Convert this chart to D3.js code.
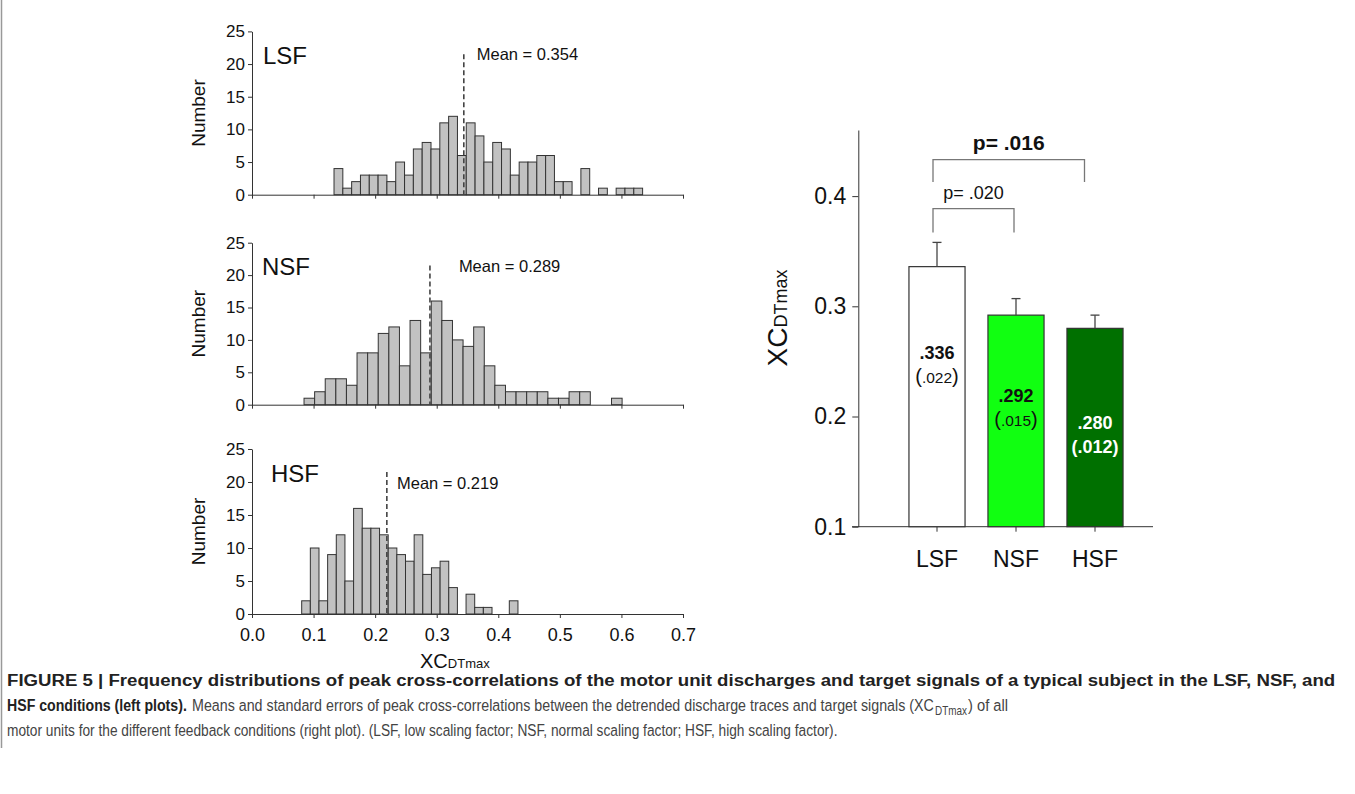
<!DOCTYPE html>
<html>
<head>
<meta charset="utf-8">
<script src="https://cdn.jsdelivr.net/npm/d3@7"></script>
<style>
  html, body { margin: 0; padding: 0; background: #fff; }
  svg { display: block; font-family: "Liberation Sans", Arial, sans-serif; }
  .axis path, .axis line { stroke: #333; }
  .axis text { fill: #111; font-family: "Liberation Sans", Arial, sans-serif; }
</style>
</head>
<body>
<div id="chart"></div>
<script>
// histogram data (counts per bin)
const histNames = ['LSF', 'NSF', 'HSF'];
const lsfCounts = [4, 1, 2, 3, 3, 3, 2, 5, 3, 7, 8, 7, 11, 12, 6, 11, 9, 5, 8, 7, 3, 5, 5, 6, 6, 2, 2, 0, 4, 0, 1, 0, 1, 1, 1];
const nsfCounts = [1, 2, 4, 4, 3, 8, 8, 11, 12, 6, 13, 8, 16, 13, 10, 9, 12, 6, 3, 2, 2, 2, 2, 1, 1, 2, 2, 0, 0, 1];
const hsfCounts = [2, 10, 2, 9, 12, 5, 16, 13, 13, 12, 10, 9, 8, 12, 6, 7, 8, 4, 0, 3, 1, 1, 0, 0, 2];
const binStarts = [0.1332, 0.0845, 0.0807];
const binWidths = [0.01432, 0.01722, 0.01405];
const meanLines = [0.344, 0.289, 0.219];
const meanLabels = ['Mean = 0.354', 'Mean = 0.289', 'Mean = 0.219'];
const histXTicks = [0, 0.1, 0.2, 0.3, 0.4, 0.5, 0.6, 0.7];
const histYTicks = [0, 5, 10, 15, 20, 25];

// summary bar chart
const barCategories = ['LSF', 'NSF', 'HSF'];
const barMeans = [0.336, 0.292, 0.280];
const barErrors = [0.022, 0.015, 0.012];
const barFills = ['#ffffff', '#11ff11', '#007000'];
const barYTicks = [0.1, 0.2, 0.3, 0.4];
const comparisons = [
  { from: 'LSF', to: 'NSF', text: 'p= .020', bold: false },
  { from: 'LSF', to: 'HSF', text: 'p= .016', bold: true },
];

const W = 1355, H = 794;
const svg = d3.select('#chart').append('svg').attr('width', W).attr('height', H);
svg.append('rect').attr('width', W).attr('height', H).attr('fill', '#fff');
svg.append('line').attr('x1', 1.5).attr('x2', 1.5).attr('y1', 0).attr('y2', 748)
  .attr('stroke', '#999').attr('stroke-width', 1.5);

const hx = d3.scaleLinear().domain([0, 0.7]).range([252, 683]);
const panels = [
  { counts: lsfCounts, top: 31.4, base: 194.7, nameX: 263, meanX: 0.365, meanY: 20.6, labels: false },
  { counts: nsfCounts, top: 242.7, base: 404.7, nameX: 262, meanX: 0.336, meanY: 20.5, labels: false },
  { counts: hsfCounts, top: 449, base: 614, nameX: 271, meanX: 0.2355, meanY: 19, labels: true },
];

function renderHist(p, i) {
  const y = d3.scaleLinear().domain([0, 25]).range([p.base, p.top]);
  const g = svg.append('g');

  const bins = p.counts.map((c, k) => ({ x0: binStarts[i] + k * binWidths[i], n: c }))
    .filter(d => d.n > 0);
  g.selectAll('.bin').data(bins).enter().append('rect')
    .attr('x', d => hx(d.x0)).attr('width', d => hx(d.x0 + binWidths[i]) - hx(d.x0))
    .attr('y', d => y(d.n)).attr('height', d => y(0) - y(d.n))
    .attr('fill', '#c2c2c2').attr('stroke', '#333').attr('stroke-width', 1);

  const xa = d3.axisBottom(hx).tickValues(histXTicks).tickSize(4).tickSizeOuter(0)
    .tickFormat(p.labels ? d3.format('.1f') : '');
  g.append('g').attr('class', 'axis').attr('transform', `translate(0,${p.base})`).call(xa)
    .selectAll('text').style('font-size', '18px').attr('dy', '1.1em');

  const ya = d3.axisLeft(y).tickValues(histYTicks).tickSize(4).tickSizeOuter(0);
  g.append('g').attr('class', 'axis').attr('transform', `translate(${hx(0)},0)`).call(ya)
    .selectAll('text').style('font-size', '17px').attr('x', -7);

  g.append('line').attr('x1', hx(meanLines[i])).attr('x2', hx(meanLines[i]))
    .attr('y1', y(21.5)).attr('y2', y(0))
    .attr('stroke', '#444').attr('stroke-width', 1.6).attr('stroke-dasharray', '5,3');

  g.append('text').attr('x', hx(p.meanX)).attr('y', y(p.meanY))
    .attr('font-size', '16.5px').attr('fill', '#111').text(meanLabels[i]);
  g.append('text').attr('x', p.nameX).attr('y', y(20))
    .attr('font-size', '24px').attr('fill', '#111').text(histNames[i]);
  g.append('text').attr('transform', `translate(205,${(p.base + p.top) / 2}) rotate(-90)`)
    .attr('text-anchor', 'middle').attr('font-size', '19px').attr('fill', '#111').text('Number');
}
panels.forEach(renderHist);

// x label below the bottom histogram
const xl = svg.append('text').attr('x', 420).attr('y', 668).attr('fill', '#111');
xl.append('tspan').attr('font-size', '20px').text('XC');
xl.append('tspan').attr('font-size', '13px').text('DTmax');

// bar chart
const by = d3.scaleLinear().domain([0.1, 0.46]).range([526.7, 130]);
const bx = d3.scaleBand().domain(barCategories).range([897.5, 1134.5]).paddingInner(0.29).paddingOuter(0.145);
const bg = svg.append('g');

bg.append('line').attr('x1', 852).attr('x2', 1153).attr('y1', by(0.1)).attr('y2', by(0.1))
  .attr('stroke', '#333');
bg.selectAll('.ctick').data(barCategories).enter().append('line')
  .attr('x1', d => bx(d) + bx.bandwidth() / 2).attr('x2', d => bx(d) + bx.bandwidth() / 2)
  .attr('y1', by(0.1)).attr('y2', by(0.1) + 5).attr('stroke', '#333');
bg.selectAll('.clabel').data(barCategories).enter().append('text')
  .attr('x', d => bx(d) + bx.bandwidth() / 2).attr('y', 567).attr('text-anchor', 'middle')
  .attr('font-size', '23px').attr('fill', '#111').text(d => d);

const bya = d3.axisLeft(by).tickValues(barYTicks).tickSize(6).tickSizeOuter(0).tickFormat(d3.format('.1f'));
bg.append('g').attr('class', 'axis').attr('transform', 'translate(858.3,0)').call(bya)
  .selectAll('text').style('font-size', '23px').attr('x', -12);

bg.selectAll('.bar').data(barMeans).enter().append('rect')
  .attr('x', (_, i) => bx(barCategories[i])).attr('width', bx.bandwidth())
  .attr('y', d => by(d)).attr('height', d => by(0.1) - by(d))
  .attr('fill', (_, i) => barFills[i]).attr('stroke', '#333').attr('stroke-width', 1.2);

barMeans.forEach((m, i) => {
  const cx = bx(barCategories[i]) + bx.bandwidth() / 2;
  bg.append('line').attr('x1', cx).attr('x2', cx).attr('y1', by(m)).attr('y2', by(m + barErrors[i]))
    .attr('stroke', '#444').attr('stroke-width', 1.3);
  bg.append('line').attr('x1', cx - 4.5).attr('x2', cx + 4.5)
    .attr('y1', by(m + barErrors[i])).attr('y2', by(m + barErrors[i]))
    .attr('stroke', '#444').attr('stroke-width', 1.3);
});

// value labels inside the bars
const labelAt = [0.2518, 0.2132, 0.1889];
barMeans.forEach((m, i) => {
  const cx = bx(barCategories[i]) + bx.bandwidth() / 2;
  const white = i === 2;
  const col = white ? '#fff' : '#111';
  bg.append('text').attr('x', cx).attr('y', by(labelAt[i])).attr('text-anchor', 'middle')
    .attr('font-size', '18px').attr('font-weight', 'bold').attr('fill', col)
    .text(d3.format('.3f')(m).replace(/^0/, ''));
  const se = bg.append('text').attr('x', cx).attr('y', by(labelAt[i]) + 24).attr('text-anchor', 'middle')
    .attr('fill', col);
  const seTxt = d3.format('.3f')(barErrors[i]).replace(/^0/, '');
  if (white) {
    se.attr('font-size', '18px').attr('font-weight', 'bold').text(`(${seTxt})`);
  } else {
    se.append('tspan').attr('font-size', '20px').text('(');
    se.append('tspan').attr('font-size', '15.5px').text(seTxt);
    se.append('tspan').attr('font-size', '20px').text(')');
  }
});

// significance brackets
const bracketLevels = [{ y: 0.3886, leg: 0.367, dxA: -4, dxB: -2, ty: 199 },
                       { y: 0.4332, leg: 0.4127, dxA: -4, dxB: -10.5, ty: 150 }];
comparisons.forEach((c, i) => {
  const L = bracketLevels[i];
  const xa = bx(c.from) + bx.bandwidth() / 2 + L.dxA;
  const xb = bx(c.to) + bx.bandwidth() / 2 + L.dxB;
  bg.append('path')
    .attr('d', `M${xa},${by(L.leg)}V${by(L.y)}H${xb}V${by(L.leg)}`)
    .attr('fill', 'none').attr('stroke', '#777').attr('stroke-width', 1.3);
  bg.append('text').attr('x', (xa + xb) / 2).attr('y', L.ty).attr('text-anchor', 'middle')
    .attr('font-size', c.bold ? '21px' : '18px').attr('font-weight', c.bold ? 'bold' : 'normal')
    .attr('fill', '#111').text(c.text);
});

// rotated y label
const ylab = bg.append('text').attr('transform', 'translate(787,318) rotate(-90)')
  .attr('text-anchor', 'middle').attr('fill', '#111');
ylab.append('tspan').attr('font-size', '28px').text('XC');
ylab.append('tspan').attr('font-size', '18px').text('DTmax');

// caption, each run squeezed horizontally to the width it has in the figure
const capRuns = [
  { x: 7, y: 686, len: 1329, bold: true, size: 17,
    text: 'FIGURE 5 | Frequency distributions of peak cross-correlations of the motor unit discharges and target signals of a typical subject in the LSF, NSF, and' },
  { x: 7, y: 711, len: 180, bold: true, size: 17, text: 'HSF conditions (left plots).' },
  { x: 192, y: 711, len: 742, bold: false, size: 17,
    text: 'Means and standard errors of peak cross-correlations between the detrended discharge traces and target signals (XC' },
  { x: 935, y: 715, len: 32, bold: false, size: 12, text: 'DTmax' },
  { x: 968, y: 711, len: 40, bold: false, size: 17, text: ') of all' },
  { x: 7, y: 736, len: 831, bold: false, size: 17,
    text: 'motor units for the different feedback conditions (right plot). (LSF, low scaling factor; NSF, normal scaling factor; HSF, high scaling factor).' },
];
svg.append('g').selectAll('text').data(capRuns).enter().append('text')
  .attr('font-size', d => `${d.size}px`)
  .attr('font-weight', d => d.bold ? 'bold' : 'normal')
  .attr('fill', d => d.bold ? '#222' : '#444').text(d => d.text)
  .each(function (d) {
    const k = d.len / this.getComputedTextLength();
    d3.select(this).attr('transform', `translate(${d.x},${d.y}) scale(${k},1)`);
  });
</script>
</body>
</html>
